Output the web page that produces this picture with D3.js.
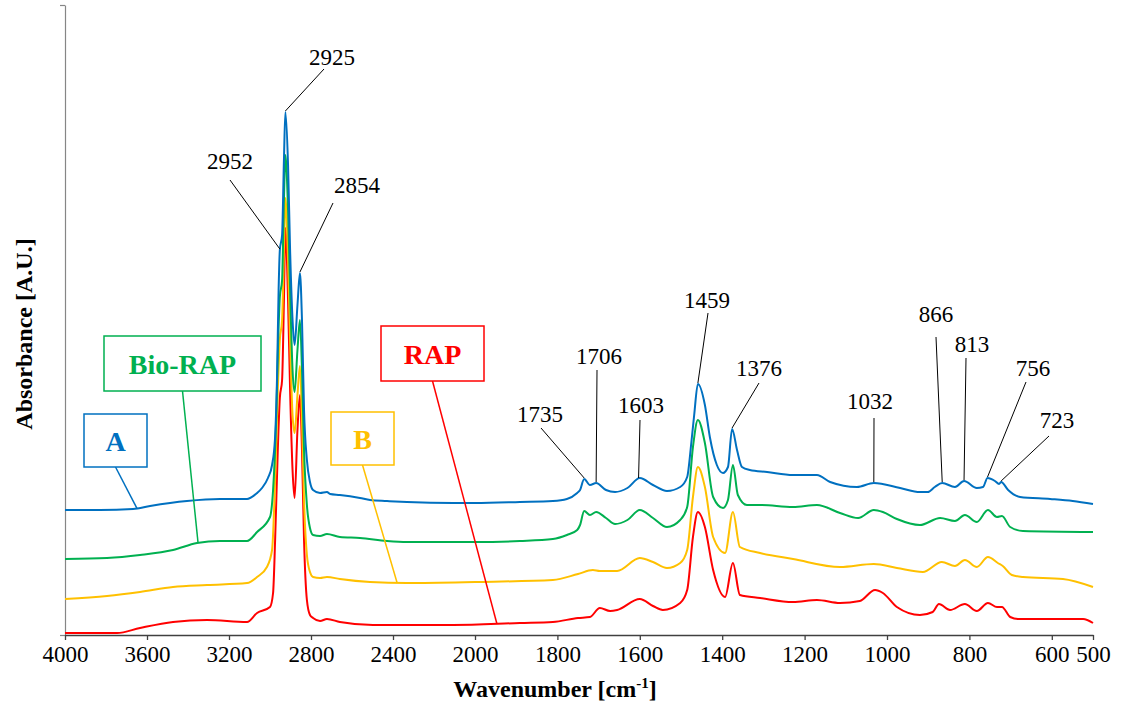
<!DOCTYPE html>
<html>
<head>
<meta charset="utf-8">
<script src="https://cdn.jsdelivr.net/npm/d3@7"></script>
<style>
  body { margin: 0; background: #fff; }
  svg { display: block; }
  svg text { font-family: "Liberation Serif", "DejaVu Serif", serif; }
</style>
</head>
<body>
<script>
// spectra, [wavenumber cm-1, absorbance A.U.]
var seriesA = [
  [4000, .125], [3829, .125], [3668, .126], [3585, .129], [3405, .134], [3244, .136],
  [3112, .136], [3063, .142], [3039, .147], [3010, .157], [2990, .170], [2976, .195],
  [2966, .255], [2958, .345], [2952, .385], [2941, .400], [2932, .475], [2925, .523],
  [2912, .470], [2902, .385], [2890, .315], [2880, .290], [2866, .330], [2854, .362],
  [2844, .315], [2834, .225], [2820, .175], [2805, .153], [2790, .145], [2756, .142],
  [2722, .143], [2707, .141], [2659, .140], [2561, .137], [2512, .135], [2429, .134],
  [2332, .133], [2107, .132], [2000, .132], [1891, .133], [1811, .134], [1777, .136],
  [1752, .142], [1745, .145], [1735, .156], [1721, .150], [1706, .152], [1682, .145],
  [1660, .143], [1630, .147], [1600, .157], [1568, .150], [1534, .144], [1502, .148],
  [1485, .158], [1475, .192], [1468, .220], [1459, .251], [1442, .230], [1430, .198],
  [1413, .170], [1398, .162], [1386, .168], [1376, .206], [1364, .185], [1352, .168],
  [1333, .165], [1291, .163], [1228, .160], [1170, .160], [1138, .153], [1073, .148],
  [1032, .152], [968, .147], [920, .143], [901, .143], [884, .148], [866, .152],
  [835, .148], [813, .154], [782, .147], [767, .148], [756, .157], [738, .154],
  [728, .151], [723, .153], [706, .145], [677, .138], [604, .136], [549, .134], [500, .131]
];
var seriesBioRAP = [
  [4000, .076], [3795, .077], [3634, .080], [3473, .085], [3356, .092], [3244, .094],
  [3112, .094], [3063, .103], [3000, .118], [2985, .145], [2970, .215], [2960, .295],
  [2952, .338], [2941, .355], [2932, .435], [2925, .480], [2912, .425], [2902, .345],
  [2890, .265], [2880, .243], [2866, .285], [2854, .315], [2844, .265], [2834, .185],
  [2820, .130], [2805, .107], [2790, .100], [2756, .099], [2722, .101], [2659, .098],
  [2561, .097], [2429, .094], [2332, .093], [2107, .093], [2000, .093], [1891, .094],
  [1811, .096], [1777, .100], [1752, .105], [1745, .110], [1735, .124], [1721, .120],
  [1706, .123], [1682, .117], [1660, .111], [1630, .115], [1600, .125], [1568, .117],
  [1534, .108], [1502, .115], [1485, .128], [1471, .188], [1459, .215], [1442, .192],
  [1422, .138], [1398, .127], [1386, .135], [1374, .170], [1362, .140], [1340, .130],
  [1308, .130], [1228, .128], [1170, .130], [1114, .122], [1070, .117], [1032, .125],
  [1010, .123], [976, .116], [920, .110], [871, .117], [835, .114], [811, .120],
  [782, .113], [755, .125], [733, .118], [721, .119], [701, .108], [670, .104], [500, .103]
];
var seriesB = [
  [4000, .036], [3795, .039], [3634, .043], [3473, .048], [3307, .050], [3112, .052],
  [3063, .058], [3015, .068], [2990, .085], [2975, .155], [2962, .245], [2952, .295],
  [2941, .315], [2932, .385], [2925, .437], [2912, .375], [2902, .295], [2890, .220],
  [2880, .202], [2866, .240], [2854, .269], [2844, .215], [2834, .135], [2820, .080],
  [2805, .063], [2790, .058], [2756, .057], [2722, .058], [2659, .056], [2512, .053],
  [2332, .052], [2000, .053], [1811, .055], [1750, .061], [1714, .065], [1697, .064],
  [1655, .064], [1600, .077], [1568, .073], [1534, .067], [1502, .072], [1485, .085],
  [1471, .138], [1459, .168], [1442, .148], [1422, .098], [1393, .082], [1374, .123],
  [1357, .088], [1308, .082], [1228, .076], [1114, .068], [1032, .071], [976, .067],
  [913, .063], [867, .073], [835, .069], [811, .075], [782, .068], [755, .078],
  [731, .072], [719, .069], [697, .060], [670, .058], [573, .056], [500, .048]
];
var seriesRAP = [
  [4000, .002], [3746, .002], [3634, .007], [3473, .013], [3307, .015], [3112, .013],
  [3063, .022], [3000, .028], [2985, .042], [2975, .095], [2962, .185], [2952, .237],
  [2941, .255], [2932, .335], [2925, .407], [2912, .335], [2902, .245], [2890, .165],
  [2880, .137], [2866, .205], [2854, .240], [2844, .185], [2834, .095], [2820, .035],
  [2805, .020], [2790, .017], [2756, .014], [2722, .016], [2659, .013], [2498, .010],
  [2107, .010], [1891, .012], [1811, .013], [1750, .017], [1721, .018], [1697, .027],
  [1672, .024], [1655, .025], [1600, .036], [1568, .029], [1544, .025], [1502, .032],
  [1485, .045], [1471, .098], [1459, .123], [1442, .108], [1422, .065], [1393, .038],
  [1374, .072], [1357, .040], [1308, .037], [1228, .033], [1170, .035], [1114, .032],
  [1066, .034], [1029, .045], [1010, .042], [976, .028], [920, .020], [889, .023],
  [874, .031], [847, .025], [811, .031], [782, .024], [755, .032], [733, .028],
  [721, .028], [701, .018], [682, .016], [524, .016], [500, .012]
];

var seriesNames = ["A", "Bio-RAP", "B", "RAP"];
var seriesColors = ["#0070C0", "#00B050", "#FFC000", "#FF0000"];
var xTicks = [4000, 3600, 3200, 2800, 2400, 2000, 1800, 1600, 1400, 1200, 1000, 800, 600, 500];
var peakLabels = [2925, 2952, 2854, 1735, 1706, 1603, 1459, 1376, 1032, 866, 813, 756, 723];

var serif = "'Liberation Serif', 'DejaVu Serif', serif";

//width and height
var w = 1123;
var h = 708;

var svg = d3.select("body").append("svg").attr("width", w).attr("height", h)
  .attr("font-family", serif);

// wavenumber axis is stretched 2x below 2000 cm-1
var xScale = d3.scaleLinear().domain([4000, 2000, 500]).range([65, 475, 1093]);
var yScale = d3.scaleLinear().domain([0, 0.63]).range([635, 5]);

function valueAt(data, wn) {
  for (var i = 0; i < data.length - 1; i++) {
    var a = data[i], b = data[i + 1];
    if (wn <= a[0] && wn >= b[0]) {
      var t = (a[0] - wn) / (a[0] - b[0]);
      return a[1] + t * (b[1] - a[1]);
    }
  }
  return data[data.length - 1][1];
}

//y axis
var yAxis = d3.axisLeft(yScale).tickValues([0, 0.63]).tickFormat("").tickSize(5).tickSizeOuter(0);
var gy = svg.append("g").attr("transform", "translate(65,0)").call(yAxis);
gy.selectAll("path, line").attr("stroke", "#868686").attr("stroke-width", 1.2);

//x axis
var xAxis = d3.axisBottom(xScale).tickValues(xTicks).tickFormat(d3.format("d"))
  .tickSize(5).tickSizeOuter(0).tickPadding(6);
var gx = svg.append("g").attr("transform", "translate(0,635)").call(xAxis);
gx.attr("font-family", serif).attr("font-size", 23);
gx.selectAll("path, line").attr("stroke", "#404040").attr("stroke-width", 1.3);
gx.selectAll("text").attr("fill", "#000");

// spectra
var line = d3.line()
  .x(function (d) { return xScale(d[0]); })
  .y(function (d) { return yScale(d[1]); })
  .curve(d3.curveMonotoneX);

var allSeries = [seriesA, seriesBioRAP, seriesB, seriesRAP];
// draw bottom to top so blue sits on top
for (var s = allSeries.length - 1; s >= 0; s--) {
  svg.append("path")
    .datum(allSeries[s])
    .attr("fill", "none")
    .attr("stroke", seriesColors[s])
    .attr("stroke-width", 2)
    .attr("stroke-linejoin", "round")
    .attr("d", line);
}

// peak annotations on the A spectrum: label centre + where leader starts
var peakPos = {
  2925: [332, 57, 324, 69],
  2952: [230, 161, 230, 180],
  2854: [357, 185, 333, 203],
  1735: [540, 414, 541, 428],
  1706: [599, 356, 597, 370],
  1603: [641, 405, 640, 420],
  1459: [707, 300, 708, 313],
  1376: [759, 368, 759, 383],
  1032: [870, 401, 874, 418],
  866: [936, 314, 936, 337],
  813: [972, 344, 966, 358],
  756: [1033, 368, 1026, 382],
  723: [1057, 420, 1049, 436]
};

peakLabels.forEach(function (p) {
  var pos = peakPos[p];
  svg.append("line")
    .attr("x1", pos[2]).attr("y1", pos[3])
    .attr("x2", xScale(p)).attr("y2", yScale(valueAt(seriesA, p)) - 1)
    .attr("stroke", "#000").attr("stroke-width", 1);
  svg.append("text")
    .attr("x", pos[0]).attr("y", pos[1] + 8)
    .attr("text-anchor", "middle")
    .attr("font-size", 23)
    .text(p);
});

// series name boxes: [x, y, width, height, wavenumber the leader points at]
var boxPos = [
  [84, 414, 63, 53, 3649],
  [104, 336, 157, 55, 3351],
  [331, 412, 63, 53, 2380],
  [381, 326, 103, 55, 1947]
];

boxPos.forEach(function (b, i) {
  var cx = b[0] + b[2] / 2;
  svg.append("line")
    .attr("x1", cx).attr("y1", b[1] + b[3])
    .attr("x2", xScale(b[4])).attr("y2", yScale(valueAt(allSeries[i], b[4])))
    .attr("stroke", seriesColors[i]).attr("stroke-width", 1.5);
  svg.append("rect")
    .attr("x", b[0]).attr("y", b[1])
    .attr("width", b[2]).attr("height", b[3])
    .attr("fill", "#fff")
    .attr("stroke", seriesColors[i]).attr("stroke-width", 1.5);
  svg.append("text")
    .attr("x", cx).attr("y", b[1] + b[3] / 2 + 10)
    .attr("text-anchor", "middle")
    .attr("font-size", 28)
    .attr("font-weight", "bold")
    .attr("fill", seriesColors[i])
    .text(seriesNames[i]);
});

// axis titles
var xt = svg.append("text")
  .attr("x", 555).attr("y", 697)
  .attr("text-anchor", "middle")
  .attr("font-size", 24)
  .attr("font-weight", "bold");
xt.append("tspan").text("Wavenumber [cm");
xt.append("tspan").attr("font-size", 15).attr("dy", -9).text("-1");
xt.append("tspan").attr("dy", 9).text("]");

svg.append("text")
  .attr("transform", "translate(32,334) rotate(-90)")
  .attr("text-anchor", "middle")
  .attr("font-size", 24)
  .attr("font-weight", "bold")
  .text("Absorbance [A.U.]");
</script>
</body>
</html>
